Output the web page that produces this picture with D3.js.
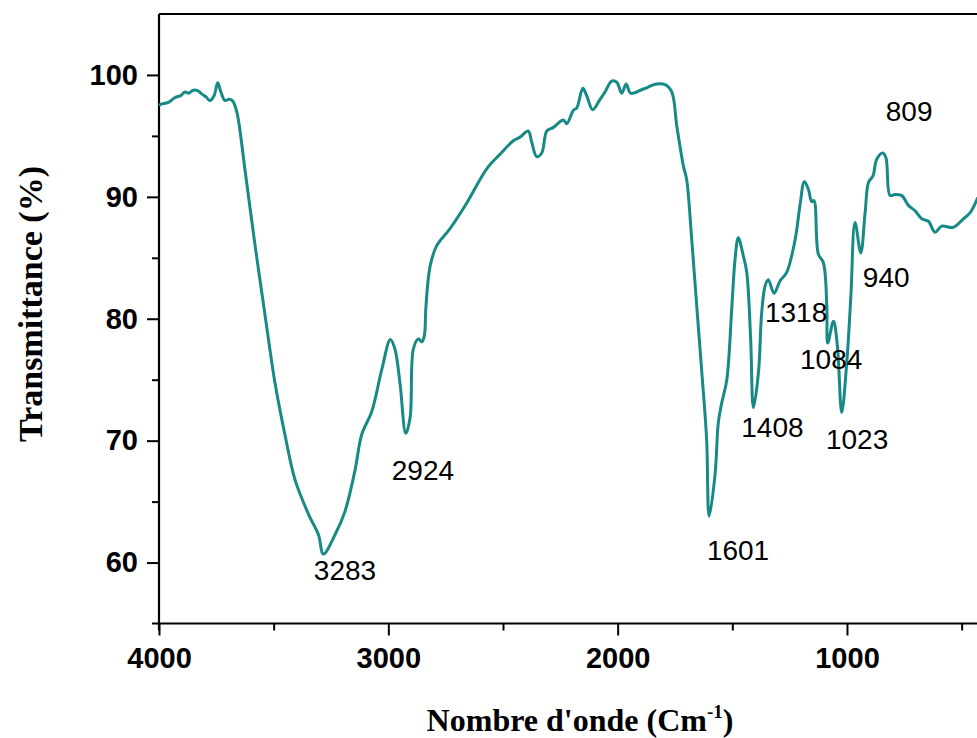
<!DOCTYPE html>
<html>
<head>
<meta charset="utf-8">
<style type="text/css">
body { margin: 0; background: #fff; }
.line {
    fill: none;
    stroke: #188a86;
    stroke-width: 3;
    stroke-linejoin: round;
}
.axis text {
    font-family: "Liberation Sans", Arial, sans-serif;
    font-weight: bold;
    font-size: 29px;
    fill: #000;
}
.axis line { stroke: #000; stroke-width: 2; }
.axis path { display: none; }
.frame { stroke: #000; stroke-width: 2.2; }
.peak {
    font-family: "Liberation Sans", Arial, sans-serif;
    font-size: 28px;
    fill: #000;
}
.title {
    font-family: "Liberation Serif", "Times New Roman", serif;
    font-weight: bold;
    font-size: 32px;
    fill: #000;
}
</style>
<script src="https://cdn.jsdelivr.net/npm/d3@7"></script>
</head>
<body>
<script>
// wavenumber (cm-1) and transmittance (%)
var wavenumber = [4000, 3991, 3959, 3930, 3905, 3887, 3870, 3850, 3830, 3814, 3795, 3778, 3760, 3744, 3730, 3712, 3695, 3680, 3661,
    3625, 3581, 3538, 3494, 3451, 3407, 3349, 3305, 3283, 3232, 3189, 3145, 3116, 3072, 3029, 2991, 2971, 2949, 2924, 2905, 2891,
    2869, 2854, 2843, 2836, 2818, 2789, 2731, 2658, 2571, 2513, 2455, 2426, 2390, 2375, 2353, 2331, 2309, 2280, 2237, 2222, 2193,
    2178, 2152, 2135, 2109, 2077, 2055, 2026, 2004, 1982, 1963, 1943, 1888, 1830, 1793, 1764, 1742, 1713, 1699, 1677, 1655, 1633,
    1612, 1601, 1575, 1561, 1546, 1524, 1502, 1488, 1474, 1452, 1437, 1420, 1408, 1386, 1372, 1357, 1343, 1318, 1292, 1263, 1226,
    1205, 1186, 1168, 1154, 1144, 1125, 1103, 1088, 1084, 1059, 1042, 1023, 1001, 983, 965, 940, 921, 906, 887, 870, 844, 830,
    812, 790, 761, 732, 703, 674, 645, 616, 587, 537, 492, 463, 430];
var transmittance = [97.5, 97.6, 97.75, 98.15, 98.3, 98.6, 98.5, 98.75, 98.7, 98.45, 98.2, 97.9, 98.3, 99.35, 98.6, 97.9, 98.0, 97.9, 97.0,
    92.2, 86.0, 80.35, 74.7, 70.5, 66.8, 64.0, 62.3, 60.7, 62.3, 64.2, 67.6, 70.5, 72.4, 75.8, 78.3, 77.5, 74.7, 70.6, 71.9, 77.5,
    78.35, 78.1, 78.6, 81.0, 84.3, 86.0, 87.4, 89.5, 92.3, 93.5, 94.6, 94.9, 95.4, 94.5, 93.3, 93.6, 95.4, 95.7, 96.3, 96.0, 97.1,
    97.3, 98.9, 98.3, 97.15, 98.0, 98.6, 99.5, 99.4, 98.5, 99.25, 98.5, 98.85, 99.25, 99.2, 98.6, 95.8, 92.5, 91.4, 86.5, 81.0, 75.6,
    70.1, 63.8, 67.3, 71.5, 73.1, 75.0, 81.0, 84.9, 86.65, 85.15, 83.8, 78.3, 72.7, 75.6, 80.5, 82.7, 83.2, 82.1, 83.1, 83.8, 86.5,
    89.3, 91.25, 90.6, 89.6, 89.7, 85.3, 84.6, 81.0, 78.0, 79.8, 77.8, 72.3, 76.4, 81.9, 87.9, 85.4, 88.7, 91.2, 91.7, 93.1, 93.6, 93.2,
    90.1, 90.2, 90.1, 89.3, 88.85, 88.2, 88.0, 87.1, 87.6, 87.5, 88.2, 88.7, 89.95];

// peak annotations: text, and where the text sits (wavenumber, transmittance)
var peakLabels = ["3283", "2924", "1601", "1408", "1318", "1084", "1023", "940", "809"];
var peakLabelX = [3189, 2849, 1475, 1325, 1222, 1069, 956, 829, 729];
var peakLabelY = [58.6, 66.8, 60.2, 70.3, 79.7, 75.85, 69.3, 82.6, 96.2];

var xMajor = [4000, 3000, 2000, 1000];
var xMinor = [3500, 2500, 1500, 500];
var yMajor = [60, 70, 80, 90, 100];
var yMinor = [65, 75, 85, 95];

var W = 977, H = 738;
var margin = {top: 14, left: 159, bottom: 114.5};

var x = d3.scaleLinear()
    .domain([4000, 400])
    .range([margin.left, margin.left + 3600 * 0.22933]);

var y = d3.scaleLinear()
    .domain([55, 105])
    .range([H - margin.bottom, margin.top]);

var svg = d3.select("body").append("svg")
    .attr("width", W)
    .attr("height", H);

var y0 = y(55);

// axes
svg.append("g")
    .attr("class", "axis")
    .attr("transform", "translate(0," + y0 + ")")
    .call(d3.axisBottom(x).tickValues(xMajor).tickSize(12).tickPadding(12).tickSizeOuter(0).tickFormat(d3.format("d")));
svg.append("g")
    .attr("class", "axis")
    .attr("transform", "translate(0," + y0 + ")")
    .call(d3.axisBottom(x).tickValues(xMinor).tickSize(7).tickSizeOuter(0).tickFormat(""));

svg.append("g")
    .attr("class", "axis")
    .attr("transform", "translate(" + margin.left + ",0)")
    .call(d3.axisLeft(y).tickValues(yMajor).tickSize(12).tickPadding(9).tickSizeOuter(0).tickFormat(d3.format("d")));
svg.append("g")
    .attr("class", "axis")
    .attr("transform", "translate(" + margin.left + ",0)")
    .call(d3.axisLeft(y).tickValues(yMinor).tickSize(7).tickSizeOuter(0).tickFormat(""));

// frame lines (left, bottom, top) - axes stick out a bit past the corner
svg.append("line").attr("class", "frame")
    .attr("x1", margin.left).attr("x2", margin.left)
    .attr("y1", y(105)).attr("y2", y0 + 7);
svg.append("line").attr("class", "frame")
    .attr("x1", margin.left - 7).attr("x2", W)
    .attr("y1", y0).attr("y2", y0);
svg.append("line").attr("class", "frame")
    .attr("x1", margin.left).attr("x2", W)
    .attr("y1", y(105)).attr("y2", y(105));

// spectrum
var line = d3.line()
    .x(function(d, i) { return x(wavenumber[i]); })
    .y(function(d) { return y(d); })
    .curve(d3.curveCatmullRom.alpha(0.5));

svg.append("path")
    .datum(transmittance)
    .attr("class", "line")
    .attr("d", line);

// peak labels
svg.selectAll(".peak")
    .data(peakLabels)
  .enter().append("text")
    .attr("class", "peak")
    .attr("text-anchor", "middle")
    .attr("x", function(d, i) { return x(peakLabelX[i]); })
    .attr("y", function(d, i) { return y(peakLabelY[i]); })
    .text(function(d) { return d; });

// axis titles
var xt = svg.append("text")
    .attr("class", "title")
    .attr("text-anchor", "middle")
    .attr("x", 580)
    .attr("y", 731);
xt.append("tspan").text("Nombre d'onde (Cm");
xt.append("tspan").attr("dy", -13).style("font-size", "19px").text("-1");
xt.append("tspan").attr("dy", 13).text(")");

svg.append("text")
    .attr("class", "title")
    .attr("text-anchor", "middle")
    .attr("transform", "translate(42,304) rotate(-90)")
    .style("font-size", "34px")
    .text("Transmittance (%)");
</script>
</body>
</html>
